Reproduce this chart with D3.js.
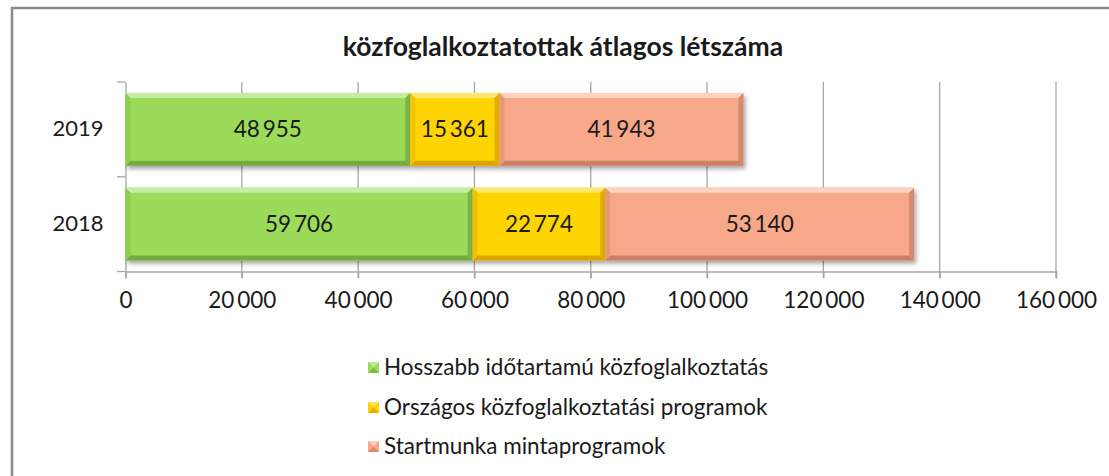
<!DOCTYPE html>
<html><head><meta charset="utf-8">
<script src="https://cdn.jsdelivr.net/npm/d3@7"></script>
<style>body{margin:0;background:#fff}svg{display:block}text{font-family:Lato,"Open Sans",sans-serif;fill:#1a1a1a}</style>
</head><body><svg id="c" width="1109" height="476"></svg>
<script>
const title = "közfoglalkoztatottak átlagos létszáma";
const categories = ["2019", "2018"];
const seriesNames = ["Hosszabb időtartamú közfoglalkoztatás", "Országos közfoglalkoztatási programok", "Startmunka mintaprogramok"];
const hosszabb = [48955, 59706];
const orszagos = [15361, 22774];
const startmunka = [41943, 53140];
const xTicks = [0, 20000, 40000, 60000, 80000, 100000, 120000, 140000, 160000];
const palette = [
  {base:"#9cdb5a", hi:"#c4eea0", lo:"#74aa42", side:"#84c34a"},
  {base:"#ffd400", hi:"#ffe870", lo:"#dba400", side:"#e8b800"},
  {base:"#f7a889", hi:"#fcd3c0", lo:"#c98268", side:"#dd9070"}
];

const svg = d3.select("#c");
const defs = svg.append("defs");
const f = defs.append("filter").attr("id","sh").attr("x","-5%").attr("y","-10%").attr("width","115%").attr("height","140%");
f.append("feDropShadow").attr("dx",2).attr("dy",3).attr("stdDeviation",2).attr("flood-color","#000").attr("flood-opacity",0.35);

// frame
svg.append("path").attr("d","M12,476 V8 H1109").attr("fill","none").attr("stroke","#8a8a8a").attr("stroke-width",2.5);

const x = d3.scaleLinear().domain([0,160000]).range([125.5,1056]);
const y = d3.scaleBand().domain(categories).range([82,271.5]).paddingInner(0.23).paddingOuter(0.115);
const fmt = v => d3.format(",")(v).replace(/,/g,"\u2009");

svg.append("text").attr("x",563).attr("y",56).attr("text-anchor","middle").attr("font-weight","bold").attr("font-size",26.5).text(title);

// gridlines
const g = svg.append("g");
g.selectAll("line.grid").data(xTicks.slice(1)).join("line")
  .attr("x1",d=>x(d)).attr("x2",d=>x(d)).attr("y1",82).attr("y2",278).attr("stroke","#a6a6a6").attr("stroke-width",1.3);
// x axis
const xa = svg.append("g").attr("transform","translate(0,271.5)")
  .call(d3.axisBottom(x).tickValues(xTicks).tickSize(7).tickPadding(14).tickFormat(fmt));
xa.select(".domain").attr("stroke","#a6a6a6").attr("stroke-width",1.3);
xa.selectAll(".tick line").attr("stroke","#a6a6a6").attr("stroke-width",1.3);
xa.selectAll("text").attr("font-size",22.5).attr("fill","#1a1a1a").style("font-family","Lato");
// y axis
const ya = svg.append("g").attr("transform","translate(125.5,0)")
  .call(d3.axisLeft(y).tickSize(0).tickPadding(22));
ya.select(".domain").attr("stroke","#a6a6a6").attr("stroke-width",1.3);
ya.selectAll("text").attr("font-size",22).attr("fill","#1a1a1a").style("font-family","Lato");
const yt = [82, (y("2019")+y.bandwidth()+y("2018"))/2, 271.5];
svg.append("g").selectAll("line").data(yt).join("line")
  .attr("x1",117).attr("x2",125.5).attr("y1",d=>d).attr("y2",d=>d).attr("stroke","#a6a6a6").attr("stroke-width",1.3);

// stacked bars
const rows = categories.map((c,i)=>({cat:c, v:[hosszabb[i], orszagos[i], startmunka[i]]}));
const segs = [];
rows.forEach(r=>{let acc=0; r.v.forEach((v,k)=>{segs.push({cat:r.cat,k,v,x0:acc,x1:acc+v}); acc+=v;});});
const b = 5;
const bars = svg.append("g");
segs.forEach(s=>{
  const X0=x(s.x0), X1=x(s.x1), Y0=y(s.cat), Y1=Y0+y.bandwidth(), c=palette[s.k];
  const gg = bars.append("g");
  gg.append("rect").attr("x",X0).attr("y",Y0).attr("width",X1-X0).attr("height",Y1-Y0).attr("fill",c.base).attr("filter","url(#sh)");
  gg.append("polygon").attr("points",[[X0,Y0],[X1,Y0],[X1-b,Y0+b],[X0+b,Y0+b]].join(" ")).attr("fill",c.hi);
  gg.append("polygon").attr("points",[[X0,Y1],[X1,Y1],[X1-b,Y1-b],[X0+b,Y1-b]].join(" ")).attr("fill",c.lo);
  gg.append("polygon").attr("points",[[X0,Y0],[X0+b,Y0+b],[X0+b,Y1-b],[X0,Y1]].join(" ")).attr("fill",c.side).attr("opacity",0.6);
  gg.append("polygon").attr("points",[[X1,Y0],[X1-b,Y0+b],[X1-b,Y1-b],[X1,Y1]].join(" ")).attr("fill",c.lo).attr("opacity",0.8);
  gg.append("text").attr("x",(X0+X1)/2).attr("y",(Y0+Y1)/2).attr("dy","0.36em").attr("text-anchor","middle").attr("font-size",22.5).text(fmt(s.v));
});

// legend
const ly = [367, 407, 446];
const leg = svg.append("g");
seriesNames.forEach((n,k)=>{
  const c = palette[k];
  leg.append("rect").attr("x",368).attr("y",ly[k]-5).attr("width",11).attr("height",11).attr("fill",c.base);
  leg.append("polygon").attr("points",[[368,ly[k]-5],[379,ly[k]-5],[373.5,ly[k]+0.5]].join(" ")).attr("fill",c.hi).attr("opacity",0.8);
  leg.append("polygon").attr("points",[[368,ly[k]+6],[379,ly[k]+6],[373.5,ly[k]+0.5]].join(" ")).attr("fill",c.lo).attr("opacity",0.7);
  leg.append("text").attr("x",384).attr("y",ly[k]).attr("dy","0.36em").attr("font-size",22.5).text(n);
});
</script></body></html>
